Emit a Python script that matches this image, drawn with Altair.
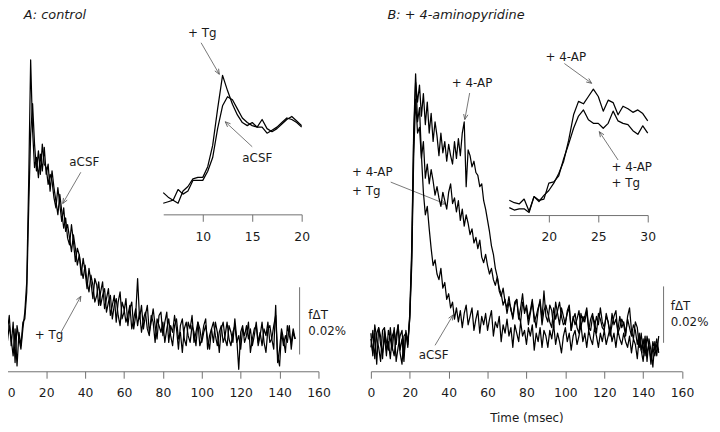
import altair as alt
import pandas as pd

# ---------------- data ----------------
# main traces: time in ms (1 ms steps), signal in units of 0.001 % fdT
T_MAIN = list(range(149))

A_TG = [1, 6, -3, 4, -8, 3, -1, -4, 2, 7,
        16, 46, 82, 61, 50, 53, 47, 54, 49, 56,
        48, 51, 43, 49, 44, 40, 36, 42, 37, 32,
        35, 29, 27, 33, 28, 22, 26, 24, 18, 23,
        19, 14, 20, 16, 11, 17, 15, 9, 13, 16,
        8, 11, 14, 6, 9, 12, 4, 10, 13, 5,
        7, 11, 3, 8, 10, 2, 6, 17, 5, 9,
        2, 6, 9, 1, 4, 8, 3, -1, 6, 7,
        0, 4, 7, -2, 3, 1, 6, 2, -4, 3,
        5, -1, -3, 4, 2, 6, -2, 1, 4, -3,
        -1, 3, 5, -4, 0, 2, -2, 4, 1, -5,
        2, 4, -1, -3, 3, 1, -2, 5, -1, -10,
        1, 3, -2, 0, 4, -5, -1, 2, 3, -3,
        0, 4, -2, -5, 2, 3, -1, -4, 9, -8,
        -4, 2, -1, -5, 3, 0, -2, 2, -1]

A_ACSF = [-2, 3, -1, -6, 2, -9, 1, -3, 4, 5,
          13, 38, 60, 69, 57, 49, 55, 48, 57, 51,
          50, 45, 48, 46, 41, 38, 44, 39, 34, 38,
          31, 33, 29, 25, 30, 26, 21, 24, 20, 17,
          21, 16, 13, 18, 15, 10, 12, 16, 9, 12,
          14, 7, 10, 12, 5, 9, 11, 6, 3, 10,
          8, 4, 6, 9, 2, 5, 8, 3, 7, 1,
          5, 7, 2, 0, 6, 4, -2, 5, 3, 1,
          4, -2, 2, 5, 0, -3, 3, 5, -1, 1,
          -5, 2, 4, 0, -2, 3, 1, -3, 4, 2,
          -2, 1, 3, -1, -4, 2, 4, 0, -3, 1,
          3, -2, 0, 4, -1, -3, 1, 3, -2, 0,
          -4, 2, 0, 3, -1, 2, -3, 0, 4, -2,
          1, -3, 2, 0, 4, -2, -1, 3, 6, -6,
          -9, 1, -3, 0, -2, 3, -4, 1, -1]

B_AP = [3, -5, 6, 1, -2, -7, 4, 5, -3, 0,
        -6, 2, 4, -1, 6, -4, -8, 2, 3, -2,
        9, 30, 72, 92, 85, 91, 80, 88, 77, 85,
        74, 81, 71, 78, 73, 66, 74, 67, 71, 64,
        70, 66, 63, 71, 65, 72, 66, 74, 78, 55,
        68, 66, 62, 64, 60, 59, 55, 56, 50, 47,
        43, 39, 34, 31, 26, 23, 19, 17, 13, 15,
        10, 14, 12, 8, 13, 15, 9, 7, 14, 11,
        12, 6, 10, 14, 9, 5, 11, 15, 8, 18,
        9, 7, 13, 11, 5, 14, 10, 6, 12, 9,
        6, 11, 13, 4, 8, 10, 5, 3, 10, 7,
        9, 12, 5, 4, 9, 7, 3, 10, 8, 5,
        4, 10, 7, 2, 6, 9, 11, 3, 5, 8,
        6, 2, 9, 12, 4, 1, 7, 5, -2, 3,
        -4, 2, -7, 1, -3, -9, 0, -5, 2]

B_APTG = [-2, 4, -6, 3, 5, -1, -4, 2, -5, 4,
          1, -3, 5, -7, -2, 2, 4, -5, 3, 0,
          8, 27, 65, 86, 74, 76, 65, 71, 58, 63,
          56, 61, 57, 52, 55, 51, 48, 53, 50, 47,
          53, 56, 49, 51, 46, 50, 43, 47, 41, 45,
          42, 38, 40, 35, 37, 33, 36, 30, 28, 31,
          27, 24, 26, 22, 20, 23, 18, 16, 19, 14,
          12, 16, 11, 9, 14, 15, 8, 12, 17, 10,
          13, 8, 11, 15, 7, 9, 12, 14, 6, 11,
          13, 10, 7, 5, 12, 8, 11, 14, 9, 6,
          7, 10, 12, 4, 9, 6, 8, 11, 5, 9,
          7, 11, 4, 8, 10, 5, 9, 6, 12, 7,
          5, 9, 7, 3, 10, 6, 8, 4, 9, 5,
          7, 3, 8, 5, 2, 6, 4, -1, 3, -3,
          1, -5, 2, -2, -6, 0, -3, 1, -4]

B_ACSF = [1, -4, 3, -8, 5, 2, -6, 4, 0, -3,
          5, -2, -5, 2, 6, -3, 1, -7, 4, -1,
          10, 33, 74, 95, 78, 83, 66, 53, 45, 48,
          40, 33, 27, 29, 24, 22, 26, 19, 21, 15,
          17, 12, 14, 8, 12, 7, 11, 5, 10, 13,
          6, 9, 12, 4, 8, 11, 3, 9, 6, 10,
          4, 8, 11, 2, 7, 5, 9, 0, 6, 3,
          8, 2, 5, -2, 6, 3, 0, 7, 2, 4,
          -1, 5, 2, 6, -3, 3, 0, 5, -2, 4,
          2, -2, 4, 1, 6, -1, 3, 0, -4, 2,
          5, 0, 3, -3, 2, 4, -1, 2, 6, 0,
          3, -2, 4, 1, -1, 5, 2, -2, 3, 0,
          4, -1, 2, 5, 0, 3, -2, 4, 1, -1,
          3, 0, -2, 2, -4, 1, -1, -6, 2, -3,
          -7, 0, -4, -1, -8, -2, -5, -1, -3]

# insets: 0.5 ms steps
T_INSET_A = [6 + 0.5 * i for i in range(29)]
IA_TG = [5, 2, 0, -2, 6, 9, 14, 15, 15, 22, 36, 60, 82, 72, 63,
         56, 51, 49, 51, 48, 53, 47, 45, 47, 50, 53, 55, 52, 49]
IA_ACSF = [-2, -1, 0, 7, 4, 6, 13, 13, 13, 19, 28, 47, 62, 68, 66,
           60, 54, 51, 49, 48, 48, 44, 46, 48, 51, 54, 53, 51, 48]

T_INSET_B = [16 + 0.5 * i for i in range(29)]
IB_AP = [4, 2, 1, 5, -5, 7, 3, 8, 12, 18, 26, 36, 53, 74, 85,
         83, 89, 95, 89, 77, 86, 84, 74, 81, 79, 76, 78, 75, 69]
IB_APTG = [-2, -4, -3, -3, -6, 7, 4, 5, 18, 19, 24, 38, 50, 63, 73,
           78, 70, 67, 67, 63, 67, 77, 69, 67, 66, 61, 58, 65, 59]

for s in (A_TG, A_ACSF, B_AP, B_APTG, B_ACSF):
    assert len(s) == len(T_MAIN)
for s in (IA_TG, IA_ACSF, IB_AP, IB_APTG):
    assert len(s) == 29

# annotations (data coordinates of their own panel)
LABELS = {
    "A": [("aCSF", 31.9, 51.5), ("+ Tg", 14.1, 0.3), ("f\u0394T", 154.8, 6.2), ("0.02%", 154.8, 1.5)],
    "Ai": [("+ Tg", 8.5, 109.7), ("aCSF", 14.0, 27.9)],
    "B": [("+ 4-AP", 41.6, 91.6), ("+ 4-AP", -9.7, 60.0), ("+ Tg", -9.7, 53.3), ("aCSF", 24.6, -4.6),
          ("f\u0394T", 154.2, 12.6), ("0.02%", 154.2, 7.0)],
    "Bi": [("+ 4-AP", 19.67, 121.5), ("+ 4-AP", 26.33, 31.6), ("+ Tg", 26.33, 18.2)],
}
TITLES = {"A": ("A: control", 8.5, 94.1), "B": ("B: + 4-aminopyridine", 8.5, 114.4)}
# arrows: start t, start v, tip t, tip v, head angle
ARROWS = {
    "A": [(37.8, 48.6, 28.5, 39.3, 210), (27.7, 1.1, 37.8, 11.7, 29)],
    "Ai": [(9.83, 103.4, 11.67, 82.7, 150), (15.0, 35.1, 12.27, 51.5, 313)],
    "B": [(50.8, 88.2, 48.3, 78.8, 191), (10.2, 56.6, 38.5, 48.8, 112), (33.0, -1.3, 42.3, 9.5, 31)],
    "Bi": [(21.57, 116.0, 24.33, 99.8, 126), (27.0, 37.0, 25.1, 60.2, 326)],
}
# scale bars (0.02 % = 20 units)
SCALEBARS = {"A": (150.3, -5.6, 14.4), "B": (150.5, -0.4, 19.6)}

# ---------------- chart ----------------
FONT = "DejaVu Sans"
INK = "#1a1a1a"
GRAY = "#707070"


def sc(domain, rng):
    return alt.Scale(domain=domain, range=rng, nice=False, zero=False)


SCALES = {
    "A": (sc([0, 160], [-8.7, 306]), sc([-10.6, 94.4], [357, 0])),
    "Ai": (sc([6, 20], [149, 289]), sc([-9.3, 120], [198.3, -0.8])),
    "B": (sc([0, 160], [359, 673.7]), sc([-10.5, 114.7], [357, 0])),
    "Bi": (sc([16, 30], [499, 639]), sc([-8.1, 140], [199, 16.1])),
}


def make_axis(values, offset=0, **extra):
    args = dict(values=values, orient="bottom", offset=offset, domainColor=GRAY, domainWidth=1,
                tickColor=GRAY, tickWidth=1, tickSize=7, labelPadding=9, labelFont=FONT,
                labelFontSize=12.5, labelColor=INK, grid=False, labelFlush=False,
                labelOverlap=False, title=None)
    args.update(extra)
    return alt.Axis(**args)


AXES = {
    "A": make_axis(list(range(0, 161, 20)),
                   labelAlign={"condition": {"test": "datum.value === 0", "value": "left"}, "value": "center"}),
    "Ai": make_axis([10, 15, 20], offset=-158.7),
    "B": make_axis(list(range(0, 161, 20)), title="Time (msec)", titleFont=FONT, titleFontSize=12,
                   titleFontWeight="normal", titleColor=INK, titleY=51, titleBaseline="alphabetic"),
    "Bi": make_axis([20, 25, 30], offset=-158),
}


def xy(panel, axis=None, xf="t", yf="v"):
    sx, sy = SCALES[panel]
    return dict(x=alt.X(f"{xf}:Q", scale=sx, axis=axis), y=alt.Y(f"{yf}:Q", scale=sy, axis=None))


def traces(ts, series):
    rows = []
    for name, vals in series.items():
        for t, v in zip(ts, vals):
            rows.append({"t": t, "v": v, "series": name})
    return pd.DataFrame(rows)


TRACE_DATA = {
    "A": traces(T_MAIN, {"aCSF": A_ACSF, "+ Tg": A_TG}),
    "Ai": traces(T_INSET_A, {"aCSF": IA_ACSF, "+ Tg": IA_TG}),
    "B": traces(T_MAIN, {"aCSF": B_ACSF, "+ 4-AP + Tg": B_APTG, "+ 4-AP": B_AP}),
    "Bi": traces(T_INSET_B, {"+ 4-AP + Tg": IB_APTG, "+ 4-AP": IB_AP}),
}

layers = []
for panel in ["A", "Ai", "B", "Bi"]:
    sx, sy = SCALES[panel]
    # arrows
    adf = pd.DataFrame(ARROWS[panel], columns=["t", "v", "t2", "v2", "ang"])
    layers.append(alt.Chart(adf).mark_rule(color="#555555", strokeWidth=0.8).encode(
        **xy(panel), x2=alt.X2("t2:Q"), y2=alt.Y2("v2:Q")))
    layers.append(alt.Chart(adf).mark_point(
        shape="M-0.42,1L0,0L0.42,1", filled=False, size=110, color="#555555",
        strokeWidth=0.8, opacity=1).encode(
        x=alt.X("t2:Q", scale=sx, axis=None), y=alt.Y("v2:Q", scale=sy, axis=None),
        angle=alt.Angle("ang:Q", scale=None)))
    # traces
    layers.append(alt.Chart(TRACE_DATA[panel]).mark_line(
        color="black", strokeWidth=1.25, strokeJoin="round").encode(
        **xy(panel, axis=AXES[panel]), detail="series:N", order="t:Q"))
    # labels
    ldf = pd.DataFrame(LABELS[panel], columns=["label", "t", "v"])
    layers.append(alt.Chart(ldf).mark_text(
        font=FONT, fontSize=12, color=INK, align="left", baseline="middle").encode(
        **xy(panel), text="label:N"))
    # scale bar
    if panel in SCALEBARS:
        t0, v0, v1 = SCALEBARS[panel]
        sdf = pd.DataFrame([{"t": t0, "v": v0, "v2": v1}])
        layers.append(alt.Chart(sdf).mark_rule(color=GRAY, strokeWidth=1).encode(
            **xy(panel), y2=alt.Y2("v2:Q")))
    if panel in TITLES:
        lab, t0, v0 = TITLES[panel]
        tdf = pd.DataFrame([{"label": lab, "t": t0, "v": v0}])
        layers.append(alt.Chart(tdf).mark_text(
            font=FONT, fontSize=13, fontStyle="italic", color=INK, align="left",
            baseline="alphabetic").encode(**xy(panel), text="label:N"))

chart = alt.layer(*layers).resolve_scale(x="independent", y="independent").resolve_axis(
    x="independent", y="independent").properties(
    width=688, height=357,
    autosize=alt.AutoSizeParams(type="none"),
    padding={"left": 8, "top": 8, "right": 16, "bottom": 59},
    background="white",
).configure_view(stroke=None)

chart.save("out.html", embed_options={"renderer": "svg", "actions": False})
